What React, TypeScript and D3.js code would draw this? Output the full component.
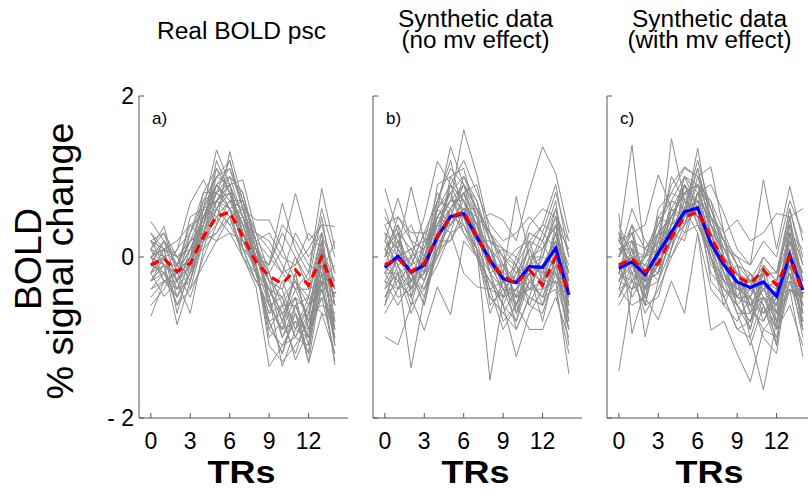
import React from 'react';
import * as d3 from 'd3';

// TR index 0..14
const trs = d3.range(0, 15);
const xTicks = [0, 3, 6, 9, 12];
const yTicks = [-2, 0, 2];
const yTickLabels = ['- 2', '0', '2'];

const panelTitles = [
  ['Real BOLD psc'],
  ['Synthetic data', '(no mv effect)'],
  ['Synthetic data', '(with mv effect)'],
];
const panelLetters = ['a)', 'b)', 'c)'];

// mean of real BOLD psc (red dashed, shown on every panel)
const realMean = [-0.1, -0.02, -0.18, -0.08, 0.25, 0.5, 0.56, 0.25, -0.06, -0.24, -0.33, -0.16, -0.35, 0, -0.45];

// synthetic means (blue)
const synthMeanNoMv = [-0.13, 0.01, -0.19, -0.1, 0.25, 0.5, 0.54, 0.25, -0.04, -0.27, -0.32, -0.12, -0.13, 0.11, -0.47];
const synthMeanMv = [-0.14, -0.06, -0.22, 0.05, 0.31, 0.56, 0.61, 0.17, -0.1, -0.31, -0.38, -0.31, -0.49, 0.02, -0.41];

// individual subjects, real data
const realSubjects = [
  [0.44, 0.2, -0.1, 0.3, 0.6, 1.33, 0.9, 0.5, 0.1, -0.2, 0.1, -0.3, -0.5, 0.2, -0.6],
  [-0.74, -0.3, -0.5, -0.2, 0.2, 0.4, 1.31, 0.7, 0.2, -0.5, -1.36, -0.9, -1.0, -0.4, -1.0],
  [0.1, 0.38, -0.2, 0.1, 0.5, 0.9, 0.7, 0.3, 0.0, -0.1, 0.67, 0.1, -0.2, 0.85, 0.1],
  [-0.3, -0.1, -0.84, -0.3, 0.3, 0.7, 0.8, 0.4, -0.2, -0.8, -0.7, -1.28, -0.9, -0.3, -1.34],
  [0.2, 0.0, 0.08, 0.67, 0.96, 0.6, 0.9, 0.96, 0.3, 0.1, -0.2, 0.3, 0.0, 0.3, -0.2],
  [-0.2, -0.49, -0.3, -0.7, 0.1, 0.3, 0.5, 0.1, -0.3, -0.6, -0.9, -0.5, -1.32, -0.7, -0.8],
  [0.0, 0.1, -0.1, 0.2, 0.4, 1.0, 1.2, 0.6, 0.46, 0.46, 0.1, 0.79, 0.2, 0.4, 0.38],
  [-0.4, -0.2, -0.6, -0.4, -0.1, 0.2, 0.3, 0.0, -0.37, -1.36, -1.1, -0.8, -1.2, -0.2, -1.1],
  [0.1, 0.0, -0.3, 0.0, 0.7, 0.8, 0.6, 0.2, 0.1, -0.3, -0.4, 0.0, -0.3, 0.5, -0.4],
  [-0.1, 0.2, 0.0, -0.2, 0.3, 0.6, 0.4, 0.5, 0.2, 0.0, -0.2, -0.1, 0.3, 0.1, -0.3],
  [-0.5, -0.3, -0.4, 0.1, 0.5, 0.7, 0.9, 0.3, -0.1, -0.9, -0.6, -1.0, -0.7, -0.1, -0.9],
  [0.3, 0.1, 0.2, 0.4, 0.2, 0.5, 0.3, 0.2, -0.2, -0.4, -0.5, -0.3, -0.6, 0.0, -0.5],
  [-0.2, -0.1, -0.2, -0.5, 0.0, 0.4, 0.7, 0.6, 0.0, -0.3, -1.0, -0.6, -0.5, -0.7, -1.2],
  [0.0, -0.2, 0.1, 0.3, 0.8, 1.1, 0.8, 0.4, 0.3, 0.2, -0.1, -0.4, -0.2, 0.6, 0.0],
  [-0.1, 0.0, -0.4, -0.1, 0.3, 0.2, 0.5, 0.0, -0.2, -0.7, -0.3, -0.7, -1.0, 0.2, -0.6],
  [0.2, 0.3, 0.0, -0.3, 0.4, 0.9, 1.0, 0.8, 0.1, -0.1, 0.4, 0.2, -0.1, -0.2, 0.2],
  [-0.3, 0.0, -0.2, 0.0, 0.1, 0.6, 0.4, 0.1, -0.1, -1.1, -1.3, -1.1, -0.8, -0.5, -0.7],
  [0.0, -0.1, -0.6, -0.2, 0.6, 0.5, 0.7, 0.5, 0.0, -0.5, -0.2, -0.4, -0.4, 0.3, -0.9],
  [-0.6, -0.4, -0.1, 0.2, 0.3, 0.8, 0.6, 0.0, -0.3, -0.2, -0.8, -0.2, -0.9, -0.1, -0.3],
  [0.2, -0.1, -0.3, -0.1, 0.5, 0.9, 1.1, 0.7, 0.2, 0.3, 0.0, -0.1, 0.1, 0.4, -0.2],
  [-0.2, 0.1, 0.0, 0.1, 0.2, 0.3, 0.6, 0.2, -0.1, -0.6, -0.5, -0.9, -0.6, -0.4, -1.0],
  [0.1, -0.3, -0.2, 0.5, 0.6, 0.7, 0.5, 0.6, 0.0, -0.4, -0.7, -0.5, -1.1, 0.1, -0.4],
  [-0.3, -0.2, -0.5, 0.0, 0.4, 1.2, 0.8, 0.3, -0.2, -0.8, -1.2, -0.7, -1.3, -0.3, -1.3],
  [0.0, 0.2, -0.1, -0.4, 0.2, 0.7, 0.9, 0.1, 0.0, -0.1, 0.3, 0.0, -0.4, -0.3, -0.1],
  [-0.2, 0.0, -0.3, 0.3, 0.7, 1.0, 1.1, 0.6, 0.1, -0.6, -0.9, -0.8, -0.9, -0.2, -0.8],
  [0.1, 0.3, -0.2, 0.0, 0.5, 0.8, 1.0, 0.5, -0.1, -0.9, -1.1, -1.0, -1.1, 0.1, -1.1],
  [-0.1, -0.2, -0.4, -0.3, 0.2, 0.6, 0.8, 0.4, 0.0, -0.4, -0.8, -1.2, -0.7, -0.6, -0.7],
  [0.2, 0.1, 0.0, 0.2, 0.6, 0.9, 0.7, 0.7, 0.3, -0.2, -0.6, -0.3, -0.8, 0.2, -0.6],
  [-0.3, -0.1, -0.2, 0.1, 0.4, 0.8, 0.9, 0.3, -0.2, -0.7, -0.6, -0.6, -1.0, -0.5, -1.2],
  [0.0, 0.1, -0.5, -0.2, 0.5, 0.7, 1.0, 0.8, 0.2, -0.3, -0.4, -0.9, -0.5, 0.3, -0.8],
  [-0.4, -0.3, -0.3, 0.0, 0.3, 0.9, 0.6, 0.4, -0.1, -1.0, -0.8, -0.4, -0.8, -0.3, -0.6],
  [0.1, -0.1, -0.1, 0.4, 0.5, 0.6, 0.8, 0.2, 0.1, -0.5, -1.0, -0.7, -1.2, 0.0, -1.0],
  [-0.1, 0.2, -0.3, -0.1, 0.6, 1.0, 0.9, 0.5, 0.0, -0.3, -0.5, -1.0, -0.6, -0.1, -0.5],
  [0.0, -0.3, -0.2, 0.2, 0.3, 0.7, 0.6, 0.7, -0.2, -0.8, -1.2, -0.6, -1.0, -0.4, -0.9],
  [-0.2, 0.1, -0.7, -0.1, 0.4, 1.1, 0.8, 0.1, -0.3, -0.4, -0.7, -0.5, -0.7, 0.2, -1.1],
  [0.3, 0.0, -0.2, 0.0, 0.8, 0.8, 1.2, 0.6, 0.2, -0.6, -0.9, -0.2, -0.9, -0.2, -0.4],
];

// synthetic subjects, no movement effect
const synthSubjectsNoMv = [
  [0.85, 0.3, 0.1, -0.2, 0.5, 0.8, 1.0, 0.6, 0.2, 0.0, -0.2, 0.1, 0.4, 0.3, -0.1],
  [-0.99, -1.09, -0.6, -0.4, -0.1, 0.3, 0.4, 0.0, -0.5, -0.7, -0.9, -0.5, -0.6, -0.3, -0.9],
  [0.2, 0.73, 0.2, 0.1, 0.6, 1.37, 0.9, 0.6, 0.3, 0.0, -0.1, 0.2, 0.1, 0.5, -0.2],
  [-0.4, -0.2, -1.38, -0.5, 0.1, 0.4, 0.6, 0.3, -0.2, -0.4, -0.6, -0.3, -0.5, -0.1, -0.8],
  [0.3, 0.1, 0.87, 0.2, 0.4, 0.7, 1.58, 1.02, 0.3, 0.1, 0.0, 0.3, 0.2, 0.6, 0.0],
  [-0.5, -0.3, -0.5, -0.91, -0.37, -0.72, 0.2, 0.0, -0.3, -0.6, -1.24, -0.7, -0.4, -0.3, -1.45],
  [0.1, 0.4, 0.0, 0.5, 1.19, 0.9, 0.7, 0.4, 0.54, 0.46, 0.2, 0.83, 1.37, 1.04, 0.3],
  [-0.2, -0.5, -0.4, -0.2, 0.3, 0.5, 0.4, 0.1, -1.53, -0.5, -0.4, -0.2, -0.3, 0.0, -0.6],
  [0.0, 0.2, -0.1, 0.0, 0.4, 0.6, 0.8, 0.5, 0.0, -0.2, 0.75, 0.0, 0.1, 0.4, 0.1],
  [-0.3, 0.0, -0.3, -0.2, 0.0, 0.3, -0.2, -0.37, -0.4, -0.9, -0.6, -0.9, -0.9, -0.5, -1.0],
  [0.4, 0.5, 0.3, 0.3, 0.7, 1.1, 0.9, 0.7, 0.2, 0.1, -0.1, 0.4, 0.6, 0.5, 0.2],
  [-0.7, -0.4, -0.2, -0.6, 0.2, 0.2, 0.5, 0.2, -0.4, -0.3, -0.7, -0.3, -0.1, 0.2, -0.6],
  [0.1, -0.1, -0.4, 0.1, 0.5, 0.7, 0.6, 0.4, 0.1, -0.4, -0.2, -0.1, -0.2, 0.3, -0.4],
  [-0.1, 0.3, -0.2, -0.1, 0.3, 0.4, 0.7, 0.3, -0.1, -0.1, -0.5, -0.4, 0.0, -0.1, -0.3],
  [0.5, 0.2, 0.4, 0.0, 0.6, 0.9, 1.2, 0.8, 0.4, 0.2, 0.3, 0.5, 0.3, 0.8, 0.2],
  [-0.3, -0.6, -0.3, -0.4, 0.0, 0.6, 0.3, 0.0, -0.3, -0.5, -0.4, -0.6, -0.7, -0.2, -0.7],
  [0.2, 0.0, 0.1, 0.2, 0.8, 0.5, 0.5, 0.2, 0.1, -0.3, -0.3, 0.1, -0.3, 0.2, -0.2],
  [-0.2, -0.2, -0.7, -0.3, 0.4, 0.7, 0.9, 0.6, -0.2, -0.6, -0.8, -0.3, -0.5, -0.4, -1.2],
  [0.3, 0.1, -0.1, 0.3, 0.2, 1.0, 1.1, 0.5, 0.3, -0.1, 0.1, 0.2, 0.4, 0.9, 0.0],
  [-0.6, -0.2, -0.1, -0.3, 0.1, 0.2, 0.6, 0.4, -0.1, -0.2, -0.9, -0.5, -0.6, 0.0, -0.5],
  [0.0, 0.5, 0.2, -0.2, 0.6, 0.8, 0.4, 0.1, -0.5, -0.7, -0.4, 0.0, 0.0, 0.6, -0.3],
  [-0.1, -0.3, -0.5, 0.2, 0.3, 0.6, 0.8, 0.9, 0.2, 0.0, -0.6, -0.1, 0.2, -0.2, -0.9],
  [0.6, 0.1, -0.3, -0.1, 0.9, 1.0, 0.7, 0.3, 0.0, -0.5, -0.1, -0.4, -0.3, 0.4, -0.4],
  [-0.4, 0.0, -0.2, -0.6, 0.1, 0.5, 0.5, 0.1, -0.7, -0.3, -0.5, -0.2, -0.8, -0.1, -0.7],
  [-0.2, 0.2, -0.3, 0.0, 0.5, 0.7, 0.7, 0.4, -0.1, -0.4, -0.4, -0.2, -0.1, 0.2, -0.6],
  [0.2, -0.1, 0.0, -0.3, 0.2, 0.6, 0.9, 0.3, 0.1, -0.3, -0.6, 0.0, -0.4, 0.1, -0.3],
  [-0.5, -0.1, -0.6, 0.0, 0.6, 0.4, 0.6, 0.5, -0.2, -0.1, -0.3, -0.5, 0.1, 0.4, -0.8],
  [0.1, 0.3, -0.4, -0.2, 0.3, 0.9, 0.5, 0.0, -0.3, -0.6, -0.2, 0.1, -0.2, -0.2, -0.5],
  [-0.3, -0.4, 0.0, 0.1, 0.7, 0.6, 0.8, 0.2, 0.2, -0.4, -0.5, -0.4, -0.4, 0.3, -0.2],
  [0.4, 0.0, -0.2, -0.4, 0.1, 0.5, 1.0, 0.7, 0.0, 0.1, -0.7, -0.1, 0.0, 0.5, -0.6],
  [-0.1, -0.3, -0.1, 0.3, 0.4, 0.8, 0.3, 0.1, -0.4, -0.5, 0.0, -0.3, -0.5, 0.0, -1.1],
  [0.0, 0.4, -0.5, -0.1, 0.5, 0.4, 0.6, 0.6, 0.3, -0.2, -0.3, 0.3, 0.2, 0.7, -0.4],
  [-0.6, 0.1, -0.2, -0.5, 0.2, 0.9, 0.7, 0.1, -0.2, -0.8, -0.6, -0.2, -0.6, -0.1, -0.3],
  [0.3, -0.2, -0.4, 0.0, 0.4, 0.3, 0.8, 0.4, -0.1, -0.3, -0.1, -0.6, -0.2, 0.3, -0.7],
  [-0.2, 0.0, 0.1, -0.2, 0.7, 1.2, 0.5, 0.3, 0.1, -0.1, -0.5, 0.2, -0.3, -0.3, -0.5],
  [0.1, -0.4, -0.3, 0.2, 0.0, 0.5, 0.9, 0.5, -0.6, -0.4, -0.8, -0.1, 0.3, 0.1, -0.9],
];

// synthetic subjects, with movement effect
const synthSubjectsMv = [
  [-1.42, -0.4, -0.3, -0.2, 0.2, 0.4, 0.6, 0.1, -0.3, -0.5, -0.6, -0.4, -0.7, -0.2, -0.5],
  [0.2, 1.39, 0.0, 0.3, 0.5, 0.8, 0.9, 0.5, 0.2, -0.1, -0.3, 0.0, -0.2, 0.4, -0.1],
  [0.54, -0.95, -0.4, 0.0, 1.47, 0.7, 0.5, 0.2, -0.2, -0.4, -0.5, -0.7, -0.6, -0.1, -0.6],
  [-0.3, 0.1, -0.99, -0.3, 0.3, 0.5, 1.35, 0.4, 0.0, -0.6, -0.8, -0.2, -0.9, 0.0, -0.8],
  [0.0, 0.3, 0.4, 1.02, 0.6, 0.4, 0.8, 0.9, 0.54, 0.1, -0.1, 0.96, 0.1, 0.88, 0.2],
  [-0.4, -0.6, -0.5, -0.78, -0.3, -0.7, 0.3, -0.91, -0.8, -1.2, -1.55, -0.9, -1.0, -0.4, -1.24],
  [0.1, 0.2, -0.2, 0.3, 0.9, 1.12, 1.0, 1.12, 0.3, 0.46, 0.2, 0.3, 0.54, 0.5, 0.6],
  [-0.2, -0.3, -0.6, 0.1, 0.0, 0.3, 0.4, 0.0, -0.5, -0.9, -1.0, -1.65, -0.8, -0.3, -0.9],
  [-0.1, 0.0, -0.1, 0.2, 0.5, 0.8, 0.7, 0.3, 0.1, -0.2, -0.4, -0.1, -0.3, 0.3, -0.3],
  [0.3, -0.2, -0.3, -0.2, 0.2, 0.6, 0.5, -0.2, -0.4, -0.5, -0.2, -0.6, -1.1, 0.1, -0.7],
  [-0.2, 0.4, 0.1, 0.4, 0.7, 1.0, 0.9, 0.6, 0.2, 0.0, -0.3, -0.2, -0.2, 0.6, 0.0],
  [-0.6, -0.3, -0.4, -0.1, 0.3, 0.2, 0.8, 0.4, -0.1, -0.6, -0.8, -0.5, -0.7, -0.2, -1.0],
  [0.1, 0.1, 0.0, 0.1, 0.4, 0.9, 0.6, 0.2, 0.0, -0.3, -0.6, -0.3, -0.4, 0.2, -0.2],
  [-0.3, -0.1, -0.5, 0.2, 0.6, 0.5, 1.1, 0.3, -0.3, -0.4, -0.3, -0.8, -0.5, -0.4, -0.5],
  [0.4, 0.0, -0.1, -0.3, 0.1, 0.7, 0.5, 0.5, 0.3, -0.1, -0.7, -0.1, -0.3, 0.5, -0.3],
  [-0.1, -0.5, -0.2, 0.0, 0.4, 0.6, 0.3, -0.4, -0.6, -0.8, -0.5, -1.0, -1.2, -0.1, -0.8],
  [0.2, 0.3, -0.3, 0.6, 0.8, 1.1, 1.0, 0.4, 0.1, 0.0, -0.1, 0.2, 0.0, 0.7, 0.3],
  [-0.5, -0.2, -0.7, -0.4, 0.0, 0.4, 0.6, 0.2, -0.2, -0.7, -1.1, -0.6, -0.9, -0.6, -1.1],
  [0.0, 0.6, 0.2, 0.0, 0.5, 0.3, 0.8, 0.7, 0.0, -0.2, -0.3, -0.4, -0.6, 0.3, 0.1],
  [-0.3, -0.4, 0.1, 0.3, 0.2, 0.8, 0.4, 0.0, -0.4, -0.6, -0.9, -0.3, -0.5, -0.2, -0.6],
  [0.1, -0.1, -0.4, 0.5, 0.7, 0.6, 1.2, 0.6, 0.2, -0.4, -0.4, -0.2, -0.8, 0.4, -0.4],
  [-0.2, 0.2, -0.6, -0.5, 0.1, 0.9, 0.7, -0.1, -0.3, -0.1, -0.6, -0.7, -0.4, -0.3, -0.7],
  [0.3, -0.3, 0.0, 0.2, 1.0, 0.7, 0.5, 0.3, -0.1, -0.5, -0.2, -0.5, -0.9, 0.2, -0.2],
  [-0.4, 0.1, -0.3, -0.1, 0.4, 0.5, 0.9, 0.1, -0.5, -0.3, -0.7, -0.4, -0.3, 0.0, -0.9],
  [-0.2, 0.0, -0.4, 0.1, 0.5, 0.8, 0.9, 0.3, -0.2, -0.5, -0.6, -0.5, -0.6, 0.1, -0.5],
  [0.2, -0.1, -0.2, 0.3, 0.3, 0.6, 0.7, 0.5, 0.0, -0.2, -0.5, -0.2, -0.9, 0.3, -0.6],
  [-0.4, -0.3, -0.1, -0.2, 0.6, 0.9, 0.5, 0.0, -0.3, -0.7, -0.7, -0.8, -0.4, -0.1, -0.3],
  [0.0, 0.3, -0.5, 0.0, 0.2, 0.4, 1.0, 0.6, 0.1, -0.3, -0.9, -0.1, -0.7, 0.5, -0.7],
  [-0.1, -0.2, 0.0, 0.4, 0.8, 0.7, 0.6, 0.2, -0.4, -0.6, -0.4, -0.6, -1.0, -0.3, -0.4],
  [0.3, 0.1, -0.3, -0.2, 0.4, 1.0, 0.8, 0.4, 0.2, -0.1, -0.2, -0.4, -0.3, 0.6, -0.1],
  [-0.3, 0.0, -0.6, 0.2, 0.1, 0.5, 0.7, -0.3, -0.5, -0.9, -0.8, -0.3, -0.6, 0.0, -0.9],
  [0.1, 0.2, 0.1, 0.0, 0.7, 0.6, 1.1, 0.5, 0.0, -0.4, -0.3, -0.7, -0.5, 0.2, -0.5],
  [-0.5, -0.1, -0.3, 0.3, 0.5, 0.9, 0.4, 0.1, -0.1, -0.3, -1.0, -0.5, -0.8, -0.4, -0.6],
  [0.0, 0.4, -0.4, -0.3, 0.3, 0.7, 0.9, 0.7, 0.3, -0.5, -0.5, 0.0, -0.2, 0.4, -0.3],
  [-0.2, -0.4, -0.2, 0.1, 0.6, 0.4, 0.8, 0.0, -0.6, -0.2, -0.6, -0.9, -0.7, -0.2, -0.8],
  [0.2, 0.0, 0.0, 0.5, 0.4, 1.0, 0.6, 0.3, -0.2, -0.6, -0.4, -0.3, -1.1, 0.3, -0.4],
];

const panels = [
  { subjects: realSubjects, blue: null },
  { subjects: synthSubjectsNoMv, blue: synthMeanNoMv },
  { subjects: synthSubjectsMv, blue: synthMeanMv },
];

const W = 808;
const H = 493;
const FONT = '"Liberation Sans", Arial, Helvetica, sans-serif';
const AXIS = '#555';

const panelLeft = [139, 373, 607];
const panelWidth = 209;
const y = d3.scaleLinear().domain([-2, 2]).range([418, 96]);

const titleSpec = [
  [{ len: 169, y: 39 }],
  [{ len: 155, y: 27 }, { len: 148, y: 48 }],
  [{ len: 155, y: 27 }, { len: 164, y: 48 }],
];

function Panel({ i }) {
  const left = panelLeft[i];
  const x = d3.scaleLinear().domain([-0.9, 15]).range([left, left + panelWidth]);
  const line = d3
    .line<number>()
    .x((_, j) => x(trs[j]))
    .y(d => y(d));
  const { subjects, blue } = panels[i];
  const cx = x(6.9);

  return (
    <g>
      {/* titles */}
      {panelTitles[i].map((t, k) => (
        <text
          key={k}
          x={cx}
          y={titleSpec[i][k].y}
          textAnchor="middle"
          fontSize={23}
          textLength={titleSpec[i][k].len}
          lengthAdjust="spacingAndGlyphs"
        >
          {t}
        </text>
      ))}

      {/* subject lines */}
      {subjects.map((s, k) => (
        <path key={k} d={line(s) || ''} fill="none" stroke="#8c8c8c" strokeWidth={1} />
      ))}

      {blue && <path d={line(blue) || ''} fill="none" stroke="#0000ff" strokeWidth={3.2} />}
      <path
        d={line(realMean) || ''}
        fill="none"
        stroke="#ff0000"
        strokeWidth={3.2}
        strokeDasharray="9,6"
      />

      {/* axes */}
      <line x1={left} x2={left} y1={y(2)} y2={y(-2)} stroke={AXIS} strokeWidth={1} />
      <line x1={left} x2={left + panelWidth} y1={y(-2)} y2={y(-2)} stroke={AXIS} strokeWidth={1} />
      {yTicks.map(t => (
        <line key={t} x1={left} x2={left + 5} y1={y(t)} y2={y(t)} stroke={AXIS} />
      ))}
      {xTicks.map(t => (
        <g key={t}>
          <line x1={x(t)} x2={x(t)} y1={y(-2)} y2={y(-2) - 5} stroke={AXIS} />
          <text x={x(t)} y={449} textAnchor="middle" fontSize={23}>
            {t}
          </text>
        </g>
      ))}
      {i === 0 &&
        yTicks.map((t, k) => (
          <text key={t} x={left - 5} y={y(t) + 8} textAnchor="end" fontSize={23}>
            {yTickLabels[k]}
          </text>
        ))}

      <text x={left + 13} y={124} fontSize={17}>
        {panelLetters[i]}
      </text>

      <text
        x={cx}
        y={483}
        textAnchor="middle"
        fontSize={32}
        fontWeight="bold"
        textLength={68}
        lengthAdjust="spacingAndGlyphs"
      >
        TRs
      </text>
    </g>
  );
}

export default function App() {
  return (
    <svg
      width={W}
      height={H}
      style={{ position: 'absolute', left: 0, top: 0, background: '#fff' }}
      fontFamily={FONT}
    >
      <text
        transform="translate(41,259) rotate(-90)"
        textAnchor="middle"
        fontSize={36}
        textLength={102}
        lengthAdjust="spacingAndGlyphs"
      >
        BOLD
      </text>
      <text
        transform="translate(73,261) rotate(-90)"
        textAnchor="middle"
        fontSize={36}
        textLength={277}
        lengthAdjust="spacingAndGlyphs"
      >
        % signal change
      </text>
      {[0, 1, 2].map(i => (
        <Panel key={i} i={i} />
      ))}
    </svg>
  );
}
